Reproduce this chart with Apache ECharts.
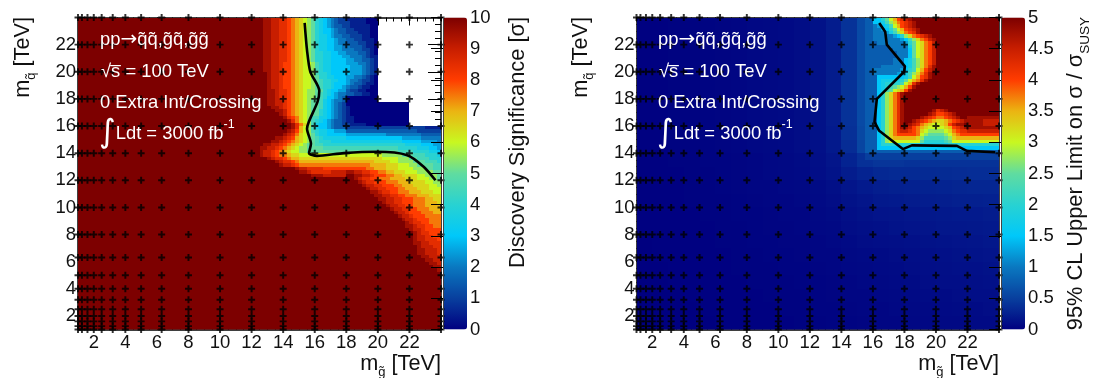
<!DOCTYPE html>
<html><head><meta charset="utf-8">
<style>html,body{margin:0;padding:0;background:#fff}#c{width:1094px;height:378px}</style>
<script src="https://cdn.jsdelivr.net/npm/echarts@6/dist/echarts.min.js"></script>
</head><body><div id="c"></div>
<script>
// ---- data ----
// grid of scanned mass points (TeV)
const massPoints = [1,1.25,1.6,2,2.5,3.2,4,5,6.3,8,10,12,14,16,18,20,22,24];
const xTickValues = [2,4,6,8,10,12,14,16,18,20,22];
const yTickValues = [2,4,6,8,10,12,14,16,18,20,22];
const sigTicks = [0,1,2,3,4,5,6,7,8,9,10];
const limTicks = [0,0.5,1,1.5,2,2.5,3,3.5,4,4.5,5];
const paletteStops = ['#000080','#083f9e','#0a78c0','#00c8fa','#28d2d2','#60dca0','#c8f820','#ebb412','#ff3c00','#c81e00','#7d0000'];

// 5 sigma discovery contour (gluino, squark)
const sigContourX = [15.36,15.51,15.72,16.29,16.18,15.62,15.51,15.76,15.64,16.14,17.84,19.95,21.86,22.9,23.65];
const sigContourY = [23.6,21.6,20.0,18.6,17.8,16.3,15.8,14.7,14.0,13.8,14.0,14.1,13.85,13.0,12.0];
// limit contour
const limContourX = [16.4,16.78,16.88,18.03,17.98,16.25,16.1,16.4,17.9,18.47,21.33,21.96,23.76];
const limContourY = [23.6,22.95,22.0,20.4,20.0,18.0,16.3,15.65,14.3,14.57,14.54,14.17,14.07];

// Significance cells: 0.25 TeV bins. One string per row, y = 23.75 downward, x = 12 .. 23.75.
// Each char is a level in 0.5 sigma steps: 0-9 = 0..4.5, a..k = 5..10; '.' = empty bin.
const sigRows = [
"kkkj jiih hgfe dcba 8765 4322 1111 1000 .... .... .... ....",
"kkkj jiih hgfe dcba 8765 4322 2111 1000 .... .... .... ....",
"kkkj jiih hgfe dcba 8765 4332 2111 1100 .... .... .... ....",
"kkkj jiih hgfe dcba 8766 5433 2211 1100 .... .... .... ....",
"kkkj jiih hgfe dcba 8766 5433 2221 1100 .... .... .... ....",
"kkkj jiih hgfe dcba 8776 5443 3222 1100 .... .... .... ....",
"kkkj jiih hgfe dcba 8776 6544 3322 1110 .... .... .... ....",
"kkkj jiih hgfe dcba 8776 6544 3332 2110 .... .... .... ....",
"kkkj jiih hgfe dcba 8776 6554 4333 2110 .... .... .... ....",
"kkkj jiih hgfe dcba 8776 6554 4433 2210 .... .... .... ....",
"kkkj jiih hgfe dcba 8877 6655 4443 3210 .... .... .... ....",
"kkkj jiih hgfe dcba 8877 6665 5444 3211 .... .... .... ....",
"kkkj jiih hgfe dcba 8877 6666 5544 3321 .... .... .... ....",
"kkkj jiih ggfe dccb 9877 6666 5554 4321 .... .... .... ....",
"kkkj jiih ggfe dccb 9877 6666 6555 4321 .... .... .... ....",
"kkkj jiih ggfe dccb 9877 6666 6555 4321 .... .... .... ....",
"kkkk jiih ggfe dccb 9887 6666 6555 4321 .... .... .... ....",
"kkkk jiih ggfe dccb a887 7666 5544 3210 .... .... .... ....",
"kkkk jiih ggfe dccb a988 7766 5443 2210 .... .... .... ....",
"kkkk jiih ggfe dccb a988 7666 5433 2110 .... .... .... ....",
"kkkk jiih ggfe dccb a988 7665 4332 1100 .... .... .... ....",
"kkkk jjih hgfe dcbb aa87 6655 3221 1000 .... .... .... ....",
"kkkk jjih hgfe dcbb a987 6544 3322 1100 .... .... .... ....",
"kkkk jjih hgfe dcbb a986 6543 0000 0000 .... .... .... ....",
"kkkk jjii hgfe dcba a976 5443 0000 0000 .... .... .... ....",
"kkkk jjii hgfe dcba a976 5432 0000 0000 0000 0000 .... ....",
"kkkk kjji hgfe dcba a976 5432 1000 0000 0000 0000 .... ....",
"kkkk kkjj igfe dcba a876 5432 1000 0000 0000 0000 .... ....",
"kkkk kkkj igfe dcba a876 5432 1000 0000 0000 0000 .... ....",
"kkkk kkkk jhgf dcb9 9776 5432 1100 0000 0000 0000 .... ....",
"kkkk kkkk kjhf dcb9 8765 4332 1100 0000 0000 0000 .... ....",
"kkkk kkkk kkjh fdb9 7665 4332 2111 1000 0000 0000 .... ....",
"kkkk kkkk kkjh ecb9 7665 4333 2222 2222 2222 2222 2222 1111",
"kkkk kkkk kjig ecb9 8776 6555 3333 3333 3333 3333 3322 2222",
"kkkk kkkk jihf dcba 8776 6666 5555 5555 5544 4444 4443 3333",
"kkkk kkjj ihge dcba 9877 7777 6666 6666 6666 6655 5554 4444",
"kkkk kjji hgfe dcba 9888 7777 7777 7777 7777 7766 6665 5554",
"kkkj jiih gfed cbaa 9988 8888 8888 8888 8888 8887 7776 6655",
"kkjj iihg fedc bbaa aa99 9999 9999 9999 9999 9888 8877 7665",
"kkji ihgf edcc bbaa aaaa aaaa aaaa aaaa aaaa a999 9888 8776",
"kkji ihgf fedd cccc cccc cccc cccc cccc cbbb bbaa a999 8887",
"kkkk jihh gfee dddd dddd dddd dddd dddd dccc cbbb aa99 9888",
"kkkk kkji hhgf eeee eeee eeee eeee eeed dddc cbbb baaa 9998",
"kkkk kkkj iihg ffff ffff ffff ffff ffee eedd dccc bbaa aa99",
"kkkk kkkk kkkj iihh hhgg gggg gggg gffe eedd dccc cbbb aa99",
"kkkk kkkk kkkk jjih hhhh iiii jjii hhgg ffee dddc ccbb bbaa",
"kkkk kkkk kkkk kkkj jjii iiii kkjj iihg ggff eedd ddcc bbba",
"kkkk kkkk kkkk kkkk kkkk kkkk kkji hhgg fffe eeed ddcc cbba",
"kkkk kkkk kkkk kkkk kkkk kkkk kkkj ihhg ggff feee dddd ccbb",
"kkkk kkkk kkkk kkkk kkkk kkkk kkkk jiih hggg ffee eddd dccb",
"kkkk kkkk kkkk kkkk kkkk kkkk kkkk kjii hhgg gffe eedd dccc",
"kkkk kkkk kkkk kkkk kkkk kkkk kkkk kkjj ihhg gfff eeed ddcc",
"kkkk kkkk kkkk kkkk kkkk kkkk kkkk kkkj jiih hggf ffee eddd",
"kkkk kkkk kkkk kkkk kkkk kkkk kkkk kkkk jjii hhgg gfff eedd",
"kkkk kkkk kkkk kkkk kkkk kkkk kkkk kkkk kjii hhgg gfff eeed",
"kkkk kkkk kkkk kkkk kkkk kkkk kkkk kkkk kkji ihhg gfff eeee",
"kkkk kkkk kkkk kkkk kkkk kkkk kkkk kkkk kkkj iihh ggff feee",
"kkkk kkkk kkkk kkkk kkkk kkkk kkkk kkkk kkkk jiih gggf ffee",
"kkkk kkkk kkkk kkkk kkkk kkkk kkkk kkkk kkkk kjii hggg ffff",
"kkkk kkkk kkkk kkkk kkkk kkkk kkkk kkkk kkkk kkji ihgg gfff",
"kkkk kkkk kkkk kkkk kkkk kkkk kkkk kkkk kkkk kkkj ihhg gfff",
"kkkk kkkk kkkk kkkk kkkk kkkk kkkk kkkk kkkk kkkj jihh ggff",
"kkkk kkkk kkkk kkkk kkkk kkkk kkkk kkkk kkkk kkkk jiih gggg",
"kkkk kkkk kkkk kkkk kkkk kkkk kkkk kkkk kkkk kkkk kjih hggg",
"kkkk kkkk kkkk kkkk kkkk kkkk kkkk kkkk kkkk kkkk kjii hhgg",
"kkkk kkkk kkkk kkkk kkkk kkkk kkkk kkkk kkkk kkkk kjii hhhg",
"kkkk kkkk kkkk kkkk kkkk kkkk kkkk kkkk kkkk kkkk kjji ihhh",
"kkkk kkkk kkkk kkkk kkkk kkkk kkkk kkkk kkkk kkkk kkji iihh",
"kkkk kkkk kkkk kkkk kkkk kkkk kkkk kkkk kkkk kkkk kkjj iiih",
"kkkk kkkk kkkk kkkk kkkk kkkk kkkk kkkk kkkk kkkk kkjj iiih",
"kkkk kkkk kkkk kkkk kkkk kkkk kkkk kkkk kkkk kkkk kkkj jiii",
"kkkk kkkk kkkk kkkk kkkk kkkk kkkk kkkk kkkk kkkk kkkk jjii",
"kkkk kkkk kkkk kkkk kkkk kkkk kkkk kkkk kkkk kkkk kkkk kjji",
"kkkk kkkk kkkk kkkk kkkk kkkk kkkk kkkk kkkk kkkk kkkk kkjj",
"kkkk kkkk kkkk kkkk kkkk kkkk kkkk kkkk kkkk kkkk kkkk kkkj"
];
const sigOutside = 10;

// Limit cells: y = 23.75 downward to 13.5, x = 15.5 .. 23.75 (shorter rows end in the top level).
// Same chars, in 0.25 steps of the 0..5 scale.
const limRows = [
"33 668a cegh ijkk",
"33 6679 bdfg hijk",
"33 4567 9ceg hijk",
"33 4456 8ace ghij",
"33 4445 79bd fghj",
"33 4444 4568 bdfg hijk",
"33 4444 4445 69bd fgij",
"33 3444 4444 58ac dfgi",
"33 3333 4444 47ac dfgi",
"33 3333 3444 46ac dfgi",
"33 3333 3344 46ac dfgi",
"33 3333 3344 46ac dfgi",
"33 3333 3444 679b dfgi",
"33 3333 3444 679b dfgi",
"33 3344 4444 679b dfhj",
"33 4444 4445 689c egij",
"33 4444 4456 79bd fhj",
"33 3666 6666 79ce ghj",
"33 3677 7778 acef hj",
"33 3678 8889 cehj",
"33 3678 9abc egj",
"33 3679 acde gj",
"33 368b dfhj",
"33 368b dfhj",
"33 368b dfhj",
"33 368b dfhj",
"33 368b dfhj",
"33 368b dfhj kkkk kkkj hijk",
"33 368b dfhj kkkk kkji gghi j",
"33 368b dfhj kkkk jihg ffgh ijkk jjjj jjjj",
"33 368b dfhj kkji hgfe ddef ghij jjjj iiii",
"33 368b dfhj kjih fedc cdeg ijjk jjjj iiii",
"33 368b dfhj jigf edcc ccde ghij jjjj jjjj",
"33 368b dfhi ihgf dcbb bbcd fghh iiii iiii",
"33 368b dfgg gggf cbaa aabc efgg gggg gggg",
"33 368b deee eeed b999 99ab deee eeee eeee",
"33 368b cccc cccc a888 889a cccc cccc cccc",
"33 3688 8888 8888 7777 7778 8888 8888 8888",
"33 3666 6666 6666 6666 6666 6666 6666 6666",
"33 3333 3333 3333 3333 3333 3333 3333 3333",
"22 2222 2222 2222 2222 2222 2222 2222 2222",
"22 2222 2222 2222 2222 2222 2222 2222 2222"
];
// Limit, everywhere else: 1 TeV blocks, rows from y = 23 downward, columns from x = 1.
const limLow = [
[.01,.01,.02,.02,.03,.04,.05,.06,.07,.08,.10,.14,.22,.40,.60,1,1,1,1,1,1,1,1],
[.01,.01,.02,.02,.03,.04,.05,.06,.07,.08,.10,.14,.22,.40,.60,1,1,1,1,1,1,1,1],
[.01,.01,.02,.02,.03,.04,.05,.06,.07,.08,.10,.14,.22,.40,.60,1,1,1,1,1,1,1,1],
[.01,.01,.02,.02,.03,.04,.05,.06,.07,.08,.10,.14,.22,.40,.60,1,1,1,1,1,1,1,1],
[.01,.01,.02,.02,.03,.04,.05,.06,.07,.08,.10,.14,.22,.40,.60,1,1,1,1,1,1,1,1],
[.01,.01,.02,.02,.03,.04,.05,.06,.07,.08,.10,.14,.22,.40,.60,1,1,1,1,1,1,1,1],
[.01,.01,.02,.02,.03,.04,.05,.06,.07,.08,.10,.14,.22,.40,.60,1,1,1,1,1,1,1,1],
[.01,.01,.02,.02,.03,.04,.05,.06,.07,.08,.10,.14,.22,.40,.60,1,1,1,1,1,1,1,1],
[.01,.01,.02,.02,.03,.04,.05,.06,.07,.08,.10,.14,.21,.38,.58,1,1,1,1,1,1,1,1],
[.01,.01,.02,.02,.03,.04,.05,.06,.07,.08,.10,.13,.20,.35,.55,.65,.65,.60,.60,.60,.60,.60,.60],
[.01,.01,.02,.02,.03,.03,.04,.05,.06,.07,.09,.12,.17,.28,.38,.42,.42,.40,.40,.40,.40,.40,.40],
[.01,.01,.01,.02,.02,.03,.04,.05,.06,.07,.08,.11,.15,.22,.28,.32,.33,.33,.33,.34,.35,.36,.36],
[.01,.01,.01,.02,.02,.03,.04,.05,.05,.06,.07,.09,.12,.17,.21,.24,.25,.26,.27,.28,.29,.30,.30],
[.01,.01,.01,.02,.02,.02,.03,.04,.05,.05,.06,.08,.10,.14,.17,.20,.21,.22,.23,.24,.25,.25,.26],
[.01,.01,.01,.01,.02,.02,.03,.03,.04,.05,.05,.07,.09,.12,.14,.16,.17,.18,.19,.20,.21,.21,.22],
[.01,.01,.01,.01,.01,.02,.02,.03,.04,.04,.05,.06,.07,.10,.12,.13,.15,.16,.17,.18,.18,.19,.20],
[0,.01,.01,.01,.01,.02,.02,.03,.03,.04,.04,.05,.06,.08,.10,.11,.12,.13,.14,.15,.16,.17,.18],
[0,.01,.01,.01,.01,.01,.02,.02,.03,.03,.04,.05,.05,.07,.08,.09,.10,.11,.12,.13,.14,.15,.16],
[0,0,.01,.01,.01,.01,.02,.02,.02,.03,.03,.04,.05,.06,.07,.08,.09,.10,.11,.12,.13,.13,.14],
[0,0,.01,.01,.01,.01,.01,.02,.02,.02,.03,.03,.04,.05,.06,.07,.08,.09,.10,.11,.11,.12,.13],
[0,0,0,.01,.01,.01,.01,.01,.02,.02,.02,.03,.04,.05,.05,.06,.07,.08,.09,.09,.10,.11,.11],
[0,0,0,0,.01,.01,.01,.01,.01,.02,.02,.03,.03,.04,.05,.05,.06,.07,.07,.08,.09,.09,.10],
[0,0,0,0,0,.01,.01,.01,.01,.01,.02,.02,.03,.03,.04,.05,.05,.06,.06,.07,.07,.08,.08]
];
const CODE = '0123456789abcdefghijk';

// ---- helpers ----
const FONT = '"Liberation Sans", Arial, Helvetica, sans-serif';
const BINS = 92, STEP = 0.25;
function runs(valueAt){
  const out = [];
  for (let iy = 0; iy < BINS; iy++){
    const y = 1 + iy*STEP;
    let start = null, cur = null;
    for (let ix = 0; ix <= BINS; ix++){
      const x = 1 + ix*STEP;
      const v = ix < BINS ? valueAt(x, y) : null;
      if (v !== cur){
        if (cur !== null) out.push([start, y, x, y+STEP, cur]);
        start = x; cur = v;
      }
    }
  }
  return out;
}
function decode(rows){ return rows.map(r => r.replace(/ /g,'')); }
const sigR = decode(sigRows), limR = decode(limRows);
function sigAt(x, y){
  const r = sigR[(23.75 - y)/STEP];
  if (x < 12 || r === undefined) return sigOutside;
  const c = r[(x - 12)/STEP];
  return c === '.' ? null : CODE.indexOf(c)/2;
}
function limAt(x, y){
  if (x >= 15.5 && y >= 13.5){
    const c = limR[(23.75 - y)/STEP][(x - 15.5)/STEP] || 'k';
    return CODE.indexOf(c)/4;
  }
  const row = limLow[Math.floor(24 - y - 0.001)];
  return row[Math.min(22, Math.floor(x - 1))];
}
const renderCell = (params, api) => {
  const a = api.coord([api.value(0), api.value(1)]);
  const b = api.coord([api.value(2), api.value(3)]);
  const l = Math.round(a[0]), r = Math.round(b[0]), t = Math.round(b[1]), bo = Math.round(a[1]);
  return {type:'rect', shape:{x:l, y:t, width:r-l, height:bo-t}, style:{fill:api.visual('color')}, silent:true};
};
const plus = 'path://M36,0h28v36h36v28h-36v36h-28v-36h-36v-28h36z';
const points = [];
massPoints.forEach(x => massPoints.forEach(y => points.push([x, y])));

const PLOT_TOP = 17.5, PLOT_H = 312;
const grids = [], xAxes = [], yAxes = [], series = [], vms = [];
const axisStyle = {lineStyle:{color:'#000', width:1.5}};
const TICK_FONT = 18.5;
function panel(left, width, cells, lineX, lineY, maxV, vmLeft, ticks, fmt){
  const g = grids.length;
  grids.push({left, top:PLOT_TOP, width, height:PLOT_H});
  const xi = xAxes.length, yi = yAxes.length;
  const base = {gridIndex:g, type:'value', min:1, max:24, splitLine:{show:false}, silent:true, animation:false};
  const lab = {color:'#111', fontFamily:FONT, fontSize:TICK_FONT};
  // major ticks, labelled at bottom / left
  xAxes.push({...base, position:'bottom', axisLine:{show:true,...axisStyle},
    axisTick:{show:true,inside:true,length:8,customValues:xTickValues,lineStyle:{color:'#000',width:1}},
    axisLabel:{show:true,customValues:xTickValues,margin:4,...lab}});
  xAxes.push({...base, position:'top', axisLine:{show:true,...axisStyle},
    axisTick:{show:true,inside:true,length:8,customValues:xTickValues,lineStyle:{color:'#000',width:1}}, axisLabel:{show:false}});
  xAxes.push({...base, position:'bottom', interval:0.5, axisLine:{show:false},
    axisTick:{show:true,inside:true,length:4,lineStyle:{color:'#000',width:1}}, axisLabel:{show:false}});
  xAxes.push({...base, position:'top', interval:0.5, axisLine:{show:false},
    axisTick:{show:true,inside:true,length:4,lineStyle:{color:'#000',width:1}}, axisLabel:{show:false}});
  yAxes.push({...base, position:'left', axisLine:{show:true,...axisStyle},
    axisTick:{show:true,inside:true,length:13,customValues:yTickValues,lineStyle:{color:'#000',width:1}},
    axisLabel:{show:true,customValues:yTickValues,margin:2,...lab}});
  yAxes.push({...base, position:'right', axisLine:{show:true,...axisStyle},
    axisTick:{show:true,inside:true,length:13,customValues:yTickValues,lineStyle:{color:'#000',width:1}}, axisLabel:{show:false}});
  yAxes.push({...base, position:'left', interval:0.5, axisLine:{show:false},
    axisTick:{show:true,inside:true,length:6,lineStyle:{color:'#000',width:1}}, axisLabel:{show:false}});
  yAxes.push({...base, position:'right', interval:0.5, axisLine:{show:false},
    axisTick:{show:true,inside:true,length:6,lineStyle:{color:'#000',width:1}}, axisLabel:{show:false}});
  const heatIndex = series.length;
  series.push({type:'custom', coordinateSystem:'cartesian2d', xAxisIndex:xi, yAxisIndex:yi, renderItem:renderCell,
    data:cells, encode:{x:[0,2], y:[1,3]}, animation:false, silent:true, clip:true, progressive:0, z:1});
  series.push({type:'scatter', xAxisIndex:xi, yAxisIndex:yi, data:points, symbol:plus, symbolSize:7,
    itemStyle:{color:'#000'}, clip:false, animation:false, silent:true, z:3});
  series.push({type:'line', xAxisIndex:xi, yAxisIndex:yi, data:lineX.map((x,i)=>[x,lineY[i]]), showSymbol:false, symbol:'none',
    smooth:maxV===10?0.25:0, lineStyle:{color:'#000',width:2.6}, animation:false, silent:true, z:4, clip:false});
  vms.push({type:'continuous', seriesIndex:heatIndex, dimension:4, min:0, max:maxV, show:true, calculable:false, hoverLink:false,
    left:vmLeft, top:PLOT_TOP, itemWidth:24, itemHeight:PLOT_H, padding:0, z:1, inRange:{color:paletteStops}, textStyle:{color:'rgba(0,0,0,0)'}});
  // colour bar scale
  const cg = grids.length;
  grids.push({left:vmLeft, top:PLOT_TOP, width:24, height:PLOT_H, z:5});
  xAxes.push({gridIndex:cg, type:'value', min:0, max:1, show:false});
  yAxes.push({gridIndex:cg, type:'value', position:'right', min:0, max:maxV, interval:maxV/10, splitLine:{show:false}, z:6, silent:true,
    axisLine:{show:true,lineStyle:{color:'#444',width:1}},
    axisTick:{show:true,inside:true,length:12,lineStyle:{color:'#000',width:1}},
    axisLabel:{show:true,margin:3,formatter:fmt,color:'#111',fontFamily:FONT,fontSize:TICK_FONT,customValues:ticks}});
}
panel(78,363,runs(sigAt),sigContourX,sigContourY,10,443,sigTicks,v=>String(v));
panel(636.5,362.5,runs(limAt),limContourX,limContourY,5,1001,limTicks,v=>String(v));

const white = {fill:'#fff', font:'18.4px '+FONT};
function annotations(dx){
  const base = {type:'text', silent:true, z:20};
  const a = {fill:'#fff',fontFamily:FONT,fontSize:18.4};
  const richW = {a, sup:{fill:'#fff',fontFamily:FONT,fontSize:12.5,verticalAlign:'top',lineHeight:24}, int:{fill:'#fff',fontFamily:'"DejaVu Sans"',fontSize:32}};
  const richP = {a, arr:{fill:'#fff',fontFamily:'"DejaVu Sans"',fontSize:20}};
  return [
    {...base, x:100+dx, y:40, style:{text:'{a|pp}{arr|\u2192}{a|q\u0303q\u0303,g\u0303q\u0303,g\u0303g\u0303}', verticalAlign:'middle', rich:richP}},
    {...base, x:101+dx, y:72, style:{...white, text:'\u221As\u0305 = 100 TeV', verticalAlign:'middle'}},
    {...base, x:100+dx, y:103, style:{...white, text:'0 Extra Int/Crossing', verticalAlign:'middle'}},
    {...base, x:99+dx, y:134, style:{text:'{int|\u222B}{a|Ldt = 3000 fb}{sup|-1}', verticalAlign:'middle', rich:richW}}
  ];
}
function massTitles(dx){
  const rich = {a:{fontFamily:FONT,fontSize:21.7,fill:'#111'}, b:{fontFamily:FONT,fontSize:13,fill:'#111',verticalAlign:'bottom',lineHeight:30}};
  return [
    {type:'text', silent:true, x:441+dx, y:364, style:{text:'{a|m}{b|g\u0303}{a| [TeV]}', align:'right', verticalAlign:'middle', rich}},
    {type:'text', silent:true, x:23+dx, y:17, rotation:Math.PI/2, style:{text:'{a|m}{b|q\u0303}{a| [TeV]}', align:'right', verticalAlign:'middle', rich}}
  ];
}
const titleRich = {a:{fontFamily:FONT,fontSize:21.8,fill:'#111'}, b:{fontFamily:FONT,fontSize:13.5,fill:'#111',verticalAlign:'bottom',lineHeight:32}};
const graphicEls = [...annotations(0), ...annotations(558), ...massTitles(0), ...massTitles(558),
  {type:'text', silent:true, x:518, y:17, rotation:Math.PI/2, style:{text:'{a|Discovery Significance [\u03C3]}', align:'right', verticalAlign:'middle', rich:titleRich}},
  {type:'text', silent:true, x:1076, y:17, rotation:Math.PI/2, style:{text:'{a|95% CL Upper Limit on \u03C3 / \u03C3}{b|SUSY}', align:'right', verticalAlign:'middle', rich:titleRich}}
];

const chart = echarts.init(document.getElementById('c'), null, {renderer:'canvas', width:1094, height:378});
chart.setOption({animation:false, backgroundColor:'#fff', tooltip:{show:false},
  grid:grids, xAxis:xAxes, yAxis:yAxes, series, visualMap:vms, graphic:{elements:graphicEls}});
</script></body></html>
